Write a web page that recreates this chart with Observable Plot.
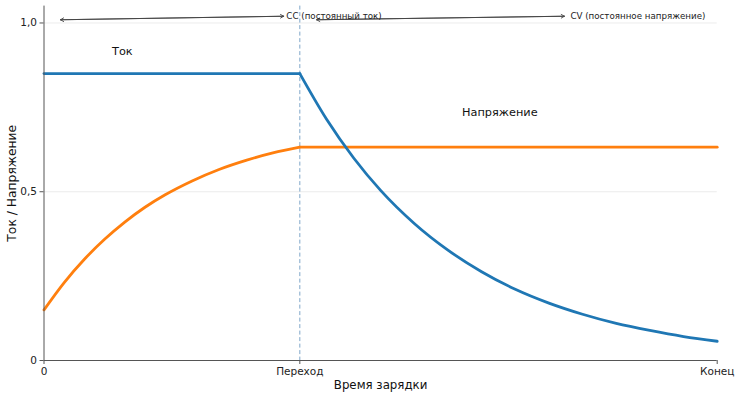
<!DOCTYPE html>
<html><head><meta charset="utf-8">
<script src="https://cdn.jsdelivr.net/npm/d3@7"></script>
<script src="https://cdn.jsdelivr.net/npm/@observablehq/plot@0.6"></script>
<style>body{margin:0;background:#fff;font-family:"DejaVu Sans",sans-serif}</style>
</head><body><div id="chart"></div>
<script>
// --- data ---
const ccTime = [0, 38];
const ccCurrent = [0.85, 0.85];
const cvTime = [38, 42, 46, 50, 55, 60, 65, 70, 75, 80, 85, 90, 95, 100];
const cvCurrent = [0.850, 0.714, 0.600, 0.504, 0.406, 0.327, 0.263, 0.211, 0.170, 0.137, 0.110, 0.089, 0.071, 0.057];
const rampTime = [0, 3, 6, 9, 12, 15, 18, 22, 26, 30, 34, 38];
const rampVoltage = [0.150, 0.231, 0.300, 0.359, 0.410, 0.454, 0.491, 0.532, 0.566, 0.593, 0.615, 0.632];
const holdTime = [38, 100];
const holdVoltage = [0.632, 0.632];
const transition = 38;
const xTickValues = [0, 38, 100];
const xTickLabels = ["0", "Переход", "Конец"];
const yTickValues = [0, 0.5, 1];
const yTickLabels = ["0", "0,5", "1,0"];
const seriesLabels = [
  {t: 10.1, v: 0.915, text: "Ток"},
  {t: 62.1, v: 0.736, text: "Напряжение"}
];
const phaseArrows = [
  {t1: 2.45, v1: 1.0095, t2: 35.6, v2: 1.020},
  {t1: 40.5, v1: 1.0095, t2: 77.3, v2: 1.020}
];
const phaseLabels = [
  {t: 36.0, v: 1.021, text: "CC (постоянный ток)"},
  {t: 78.2, v: 1.021, text: "CV (постоянное напряжение)"}
];

const rows = (ts, vs, key) => ts.map((t, i) => ({t, v: vs[i], key}));
const current = [...rows(ccTime, ccCurrent, "cc"), ...rows(cvTime, cvCurrent, "cv")];
const voltage = [...rows(rampTime, rampVoltage, "ramp"), ...rows(holdTime, holdVoltage, "hold")];
const arrowsBoth = [
  ...phaseArrows,
  ...phaseArrows.map(a => ({t1: a.t2, v1: a.v2, t2: a.t1, v2: a.v1}))
];

const chart = Plot.plot({
  width: 740,
  height: 398,
  marginLeft: 43.5,
  marginRight: 23.3,
  marginTop: 5.6,
  marginBottom: 38,
  style: {fontFamily: "DejaVu Sans", fontSize: "10px", color: "#222", background: "white"},
  x: {domain: [0, 100]},
  y: {domain: [0, 1.05]},
  marks: [
    Plot.gridY([0.5, 1], {stroke: "#e6e6e6", strokeOpacity: 1, strokeWidth: 0.8}),
    Plot.ruleX([transition], {stroke: "#7fa7c9", strokeWidth: 1, strokeDasharray: "4,2.5"}),
    Plot.line(voltage, {x: "t", y: "v", z: "key", stroke: "#ff7f0e", strokeWidth: 2.8, curve: "monotone-x"}),
    Plot.line(current, {x: "t", y: "v", z: "key", stroke: "#1f77b4", strokeWidth: 2.8, curve: "monotone-x"}),
    Plot.ruleX([0], {stroke: "#555", strokeWidth: 1}),
    Plot.ruleY([0], {stroke: "#555", strokeWidth: 1}),
    Plot.axisY(yTickValues, {tickFormat: d => yTickLabels[yTickValues.indexOf(d)], tickSize: 4, tickPadding: 3, fontSize: 10.5, label: null, stroke: "#555"}),
    Plot.axisX(xTickValues, {tickFormat: d => xTickLabels[xTickValues.indexOf(d)], tickSize: 4, tickPadding: 3, fontSize: 10.5, label: null, stroke: "#555"}),
    Plot.text(["Время зарядки"], {text: d => d, frameAnchor: "bottom", textAnchor: "middle", lineAnchor: "middle", dy: 25, fontSize: 11.8, fill: "#111"}),
    Plot.text(["Ток / Напряжение"], {text: d => d, frameAnchor: "left", textAnchor: "middle", lineAnchor: "middle", dx: -31.5, rotate: -90, fontSize: 12.3, fill: "#111"}),
    Plot.text(seriesLabels, {x: "t", y: "v", text: "text", textAnchor: "start", fontSize: 11.3, fill: "#111"}),
    Plot.arrow(arrowsBoth, {x1: "t1", y1: "v1", x2: "t2", y2: "v2", stroke: "#444", strokeWidth: 0.9, headLength: 6, insetEnd: 0, insetStart: 0}),
    Plot.text(phaseLabels, {x: "t", y: "v", text: "text", textAnchor: "start", fontSize: 8.7, fill: "#222"})
  ]
});
document.getElementById("chart").append(chart);
</script>
</body></html>
